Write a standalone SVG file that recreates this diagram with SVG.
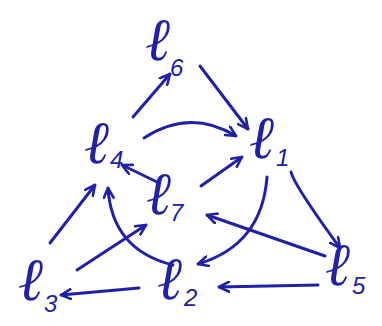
<svg xmlns="http://www.w3.org/2000/svg" width="382" height="326" viewBox="0 0 382 326">
<style>
.c{fill:none;stroke:#2020a8;stroke-width:3;stroke-linecap:round;stroke-linejoin:round}
.l{font-family:"Liberation Serif","DejaVu Serif",serif;font-style:italic;font-size:60px;fill:#2020a8}
.s{font-family:"Liberation Sans",sans-serif;font-style:italic;font-size:24px;fill:#2020a8}
</style>
<defs>
<marker id="ah" viewBox="0 0 12 12" refX="11" refY="6" markerWidth="12" markerHeight="12" markerUnits="userSpaceOnUse" orient="auto">
<path d="M1,1 L11,6 L1,11" fill="none" stroke="#2020a8" stroke-width="2.6" stroke-linecap="round" stroke-linejoin="round"/>
</marker>
</defs>
<rect width="382" height="326" fill="#fff"/>
<g id="connectors">
<path class="c" marker-end="url(#ah)" d="M133,117 L170,74"/>
<path class="c" marker-end="url(#ah)" d="M200,66 L248,129"/>
<path class="c" marker-end="url(#ah)" d="M144,138 Q190,108 236,136"/>
<path class="c" marker-end="url(#ah)" d="M157,182 L122,165"/>
<path class="c" marker-end="url(#ah)" d="M201,186 L242,157"/>
<path class="c" marker-end="url(#ah)" d="M291,172 Q294,185 340,248"/>
<path class="c" marker-end="url(#ah)" d="M267,177 Q262,245 198,264"/>
<path class="c" marker-end="url(#ah)" d="M325,256 L207,215"/>
<path class="c" marker-end="url(#ah)" d="M318,285 L219,287"/>
<path class="c" marker-end="url(#ah)" d="M139,288 L61,295"/>
<path class="c" marker-end="url(#ah)" d="M77,270 L146,225"/>
<path class="c" marker-end="url(#ah)" d="M50,243 L95,185"/>
<path class="c" marker-end="url(#ah)" d="M173,265 Q112,250 108,188"/>
</g>
<g id="l6"><text class="l" x="145" y="60">ℓ</text><text class="s" x="170" y="76">6</text></g>
<g id="l4"><text class="l" x="84" y="163">ℓ</text><text class="s" x="110" y="168">4</text></g>
<g id="l1"><text class="l" x="249" y="158">ℓ</text><text class="s" x="276" y="166">1</text></g>
<g id="l7"><text class="l" x="146" y="214">ℓ</text><text class="s" x="170" y="221">7</text></g>
<g id="l3"><text class="l" x="18" y="300">ℓ</text><text class="s" x="44" y="312">3</text></g>
<g id="l2"><text class="l" x="157" y="299">ℓ</text><text class="s" x="184" y="306">2</text></g>
<g id="l5"><text class="l" x="325" y="285">ℓ</text><text class="s" x="352" y="294">5</text></g>
</svg>
